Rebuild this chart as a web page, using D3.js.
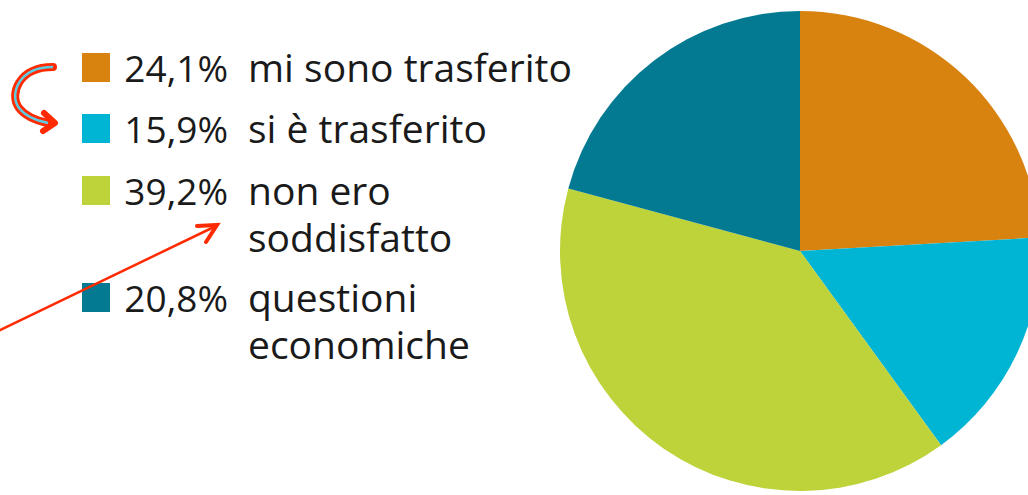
<!DOCTYPE html>
<html>
<head>
<meta charset="utf-8">
<script src="https://cdn.jsdelivr.net/npm/d3@7"></script>
<style>
  html, body { margin: 0; padding: 0; background: #ffffff; }
  svg { display: block; }
  text { font-family: "Open Sans", "Noto Sans", sans-serif; fill: #1a1a1a; }
</style>
</head>
<body>
<svg id="chart" width="1028" height="495"></svg>
<script>
// Motivi del cambiamento (percentuali)
const categories = ["mi sono trasferito", "si è trasferito", "non ero soddisfatto", "questioni economiche"];
const values = [24.1, 15.9, 39.2, 20.8];
const valueLabels = ["24,1%", "15,9%", "39,2%", "20,8%"];
const labelLines = [["mi sono trasferito"], ["si è trasferito"], ["non ero", "soddisfatto"], ["questioni", "economiche"]];
const colors = ["#D8820F", "#00B4D4", "#BED23A", "#037A91"];

const svg = d3.select("#chart");

// ---- Pie ----
const cx = 800, cy = 251, radius = 240;
const pie = d3.pie().sort(null).value(d => d)(values);
const arc = d3.arc().innerRadius(0).outerRadius(radius);
const color = d3.scaleOrdinal().domain(categories).range(colors);

svg.append("g")
  .attr("transform", `translate(${cx},${cy})`)
  .selectAll("path")
  .data(pie)
  .join("path")
  .attr("d", arc)
  .attr("fill", (d, i) => color(categories[i]));

// ---- Legend ----
const labelSize = 39;
const valueSize = 37;
const rowBaselines = [82, 143, 205, 312];
const lineGap = 47;
const legend = svg.append("g");
const rows = legend.selectAll("g.row")
  .data(categories)
  .join("g")
  .attr("class", "row")
  .attr("transform", (d, i) => `translate(0,${rowBaselines[i]})`);

rows.append("rect")
  .attr("x", 82).attr("y", -29)
  .attr("width", 28).attr("height", 29)
  .attr("fill", d => color(d));

rows.append("text")
  .attr("x", 228).attr("y", 0)
  .attr("text-anchor", "end")
  .style("font-size", valueSize + "px")
  .text((d, i) => valueLabels[i]);

rows.append("text")
  .attr("x", 248).attr("y", 0)
  .style("font-size", labelSize + "px")
  .selectAll("tspan")
  .data((d, i) => labelLines[i])
  .join("tspan")
  .attr("x", 248)
  .attr("dy", (d, j) => j === 0 ? 0 : lineGap)
  .text(d => d);

// ---- Red annotation arrows ----
const red = "#FF2A00";
// curved arrow
const curve = d3.path();
curve.moveTo(53, 67);
curve.bezierCurveTo(18, 67, 9, 95, 19, 108);
curve.bezierCurveTo(26, 117, 38, 121, 48, 123);
svg.append("path").attr("d", curve.toString())
  .attr("fill", "none").attr("stroke", red).attr("stroke-width", 8).attr("stroke-linecap", "round");
svg.append("path").attr("d", curve.toString())
  .attr("fill", "none").attr("stroke", "#5FCBE0").attr("stroke-width", 2.5);
svg.append("path")
  .attr("d", "M44,113 L55,123 L43,131")
  .attr("fill", "none").attr("stroke", red).attr("stroke-width", 6)
  .attr("stroke-linejoin", "round").attr("stroke-linecap", "round");

// straight arrow
svg.append("line")
  .attr("x1", -2).attr("y1", 331).attr("x2", 216).attr("y2", 226)
  .attr("stroke", red).attr("stroke-width", 2.5);
svg.append("path")
  .attr("d", "M197,226 L217,225 L206,242")
  .attr("fill", "none").attr("stroke", red).attr("stroke-width", 4)
  .attr("stroke-linejoin", "miter").attr("stroke-linecap", "round");
</script>
</body>
</html>
